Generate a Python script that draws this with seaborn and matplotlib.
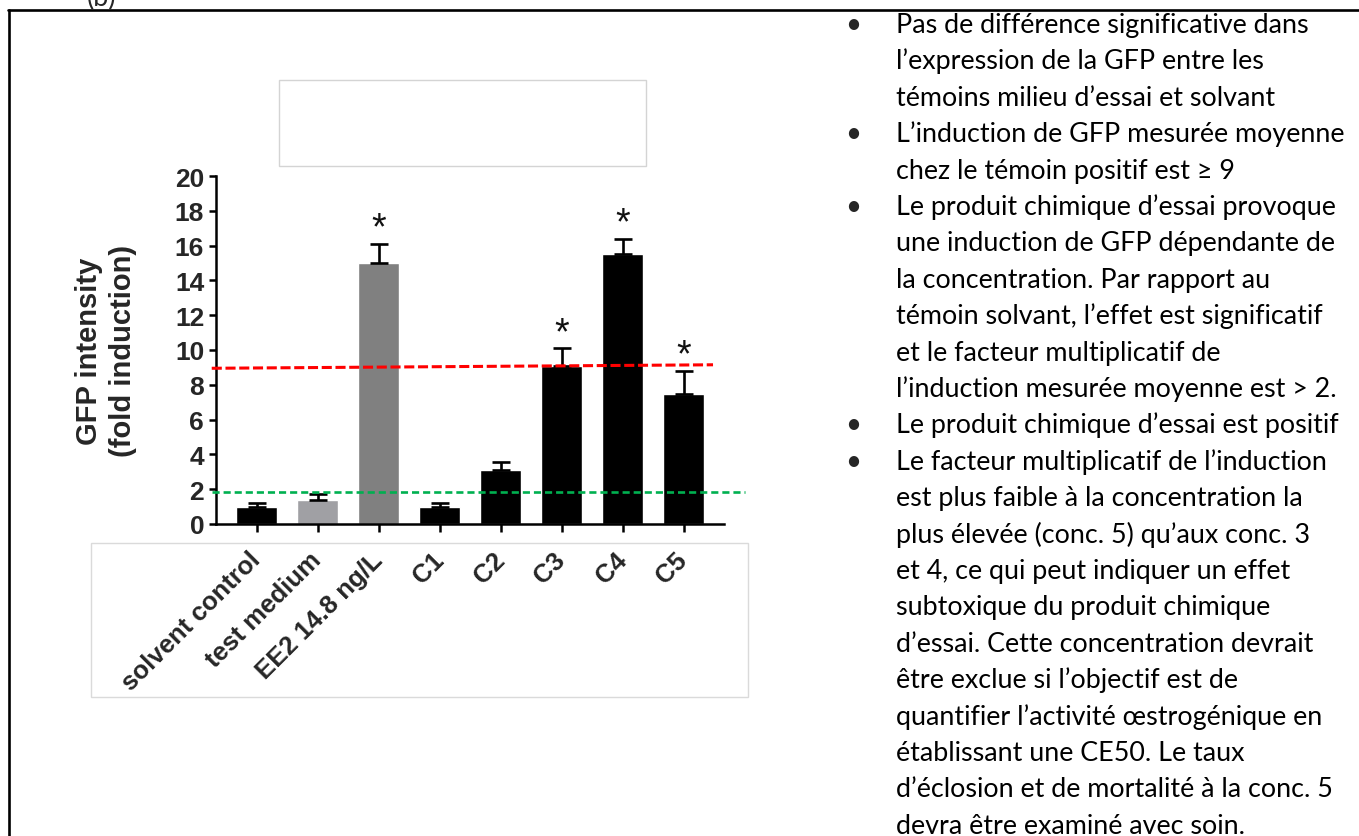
import matplotlib
matplotlib.use("Agg")
import matplotlib.pyplot as plt
import matplotlib.transforms as mtransforms
from matplotlib.lines import Line2D
from matplotlib.patches import Rectangle
import pandas as pd
import seaborn as sns

# ---- data -------------------------------------------------------------
categories = ["solvent control", "test medium", "EE2 14.8 ng/L",
              "C1", "C2", "C3", "C4", "C5"]
mean_induction = [1.0, 1.4, 15.0, 1.0, 3.1, 9.1, 15.5, 7.5]
sem_induction = [0.2, 0.3, 1.1, 0.2, 0.45, 1.0, 0.9, 1.3]
significant = [False, False, True, False, False, True, True, True]
bar_colors = ["#000000", "#A0A0A4", "#808080",
              "#000000", "#000000", "#000000", "#000000", "#000000"]
positive_control_level = [8.95, 9.15]   # hand-drawn guide, slightly tilted
solvent_level = 1.85
y_ticks = list(range(0, 21, 2))

notes = [
    ["Pas de différence significative dans",
     "l’expression de la GFP entre les",
     "témoins milieu d’essai et solvant"],
    ["L’induction de GFP mesurée moyenne",
     "chez le témoin positif est ≥ 9"],
    ["Le produit chimique d’essai provoque",
     "une induction de GFP dépendante de",
     "la concentration. Par rapport au",
     "témoin solvant, l’effet est significatif",
     "et le facteur multiplicatif de",
     "l’induction mesurée moyenne est > 2."],
    ["Le produit chimique d’essai est positif"],
    ["Le facteur multiplicatif de l’induction",
     "est plus faible à la concentration la",
     "plus élevée (conc. 5) qu’aux conc. 3",
     "et 4, ce qui peut indiquer un effet",
     "subtoxique du produit chimique",
     "d’essai. Cette concentration devrait",
     "être exclue si l’objectif est de",
     "quantifier l’activité œstrogénique en",
     "établissant une CE50. Le taux",
     "d’éclosion et de mortalité à la conc. 5",
     "devra être examiné avec soin."],
]

# ---- figure -----------------------------------------------------------
sns.set_style("ticks")
plt.rcParams["font.family"] = ["Liberation Sans", "DejaVu Sans"]
NOTE_FONT = ["Lato", "DejaVu Sans"]

W, H = 1359, 837
fig = plt.figure(figsize=(W / 100, H / 100), dpi=100)
fig.patch.set_facecolor("white")


def fx(px):
    return px / W


def fy(py):
    return 1 - py / H


ax = fig.add_axes([fx(216), fy(525), fx(724 - 216), (525 - 177) / H])
ax.set_facecolor("none")

df = pd.DataFrame({"group": categories, "fold": mean_induction})
sns.barplot(data=df, x="group", y="fold", hue="group",
            palette=dict(zip(categories, bar_colors)), saturation=1,
            width=0.67, errorbar=None, legend=False, ax=ax, zorder=2)

xs = list(range(len(categories)))
ax.errorbar(xs, mean_induction, yerr=[[0] * len(xs), sem_induction],
            fmt="none", ecolor="black", elinewidth=1.9, capsize=6.8,
            capthick=1.9, zorder=2.5)

for x, m, e, sig in zip(xs, mean_induction, sem_induction, significant):
    if sig:
        ax.text(x, m + e + 0.3, "*", ha="center", va="baseline",
                fontsize=27, color="#111111")

# threshold guides
ax.plot([-0.74, 7.48], positive_control_level, color="#FF0000", lw=2.2,
        dashes=(3.3, 1.2), clip_on=False, zorder=3)
ax.plot([-0.74, 8.0], [solvent_level, solvent_level], color="#00B050",
        lw=1.9, dashes=(2.7, 1.5), clip_on=False, zorder=3)

ax.set_xlim(-0.67, 7.66)
ax.set_ylim(0, 20)
ax.set_yticks(y_ticks)
ax.set_yticklabels([str(t) for t in y_ticks], fontsize=19, fontweight="bold")
ax.set_xticks(xs)
ax.set_xticklabels(categories, fontsize=18.5, fontweight="bold",
                   rotation=45, ha="right", va="center",
                   rotation_mode="anchor")
shift = mtransforms.ScaledTranslation(-0.07, -0.02, fig.dpi_scale_trans)
for lbl in ax.get_xticklabels():
    lbl.set_transform(lbl.get_transform() + shift)
ax.tick_params(axis="y", length=5, width=1.8, pad=3.5, color="black")
ax.tick_params(axis="x", length=5.8, width=1.8, pad=17, color="black")
ax.set_xlabel("")
ax.set_ylabel("GFP intensity\n(fold induction)", fontsize=21,
              fontweight="bold", linespacing=1.3, labelpad=27)
for side in ("top", "right"):
    ax.spines[side].set_visible(False)
for side in ("left", "bottom"):
    ax.spines[side].set_linewidth(1.8)
    ax.spines[side].set_color("black")

# empty framed boxes around the chart
fig.add_artist(Rectangle((fx(279), fy(167)), fx(646 - 279), (167 - 81) / H,
                         transform=fig.transFigure, facecolor="none",
                         edgecolor="#d4d4d4", lw=1.0))
fig.add_artist(Rectangle((fx(91), fy(698)), fx(748 - 91), (698 - 544) / H,
                         transform=fig.transFigure, facecolor="none",
                         edgecolor="#dadada", lw=1.0))

# outer panel frame
fig.add_artist(Line2D([fx(9), fx(9)], [fy(11), 0], color="black", lw=1.9,
                      transform=fig.transFigure))
fig.add_artist(Line2D([fx(8), 1], [fy(11), fy(11)], color="black", lw=1.9,
                      transform=fig.transFigure))
fig.text(fx(101), fy(6), "(b)", ha="center", va="baseline", fontsize=19.4,
         family=NOTE_FONT)

# bullet notes
line_no = 0
for group in notes:
    for k, line in enumerate(group):
        base = fy(33 + 36.4 * line_no)
        if k == 0:
            fig.text(fx(853), base, "•", ha="center", va="baseline",
                     fontsize=20, family=NOTE_FONT)
        fig.text(fx(896), base, line, ha="left", va="baseline",
                 fontsize=19.4, family=NOTE_FONT, color="black")
        line_no += 1

fig.savefig("out.png", dpi=100)
